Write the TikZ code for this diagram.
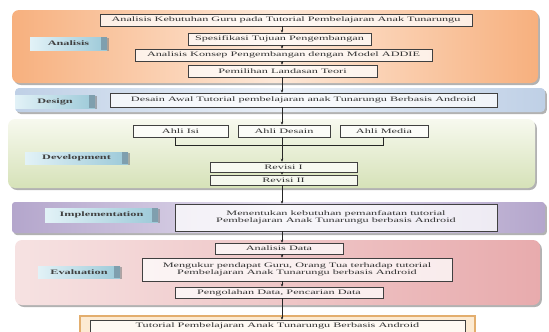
\documentclass[tikz,border=0pt]{standalone}
\usepackage{fontspec}
\usetikzlibrary{shadows,arrows.meta}
\newfontfamily\bxfont{Liberation Serif}[FakeStretch=1.8]
\definecolor{orEdge}{HTML}{F7B07E}
\definecolor{orMid}{HTML}{FDE8D8}
\definecolor{blEdge}{HTML}{BFD0E6}
\definecolor{blMid}{HTML}{E9EFF7}
\definecolor{grTop}{HTML}{F7F9EF}
\definecolor{grBot}{HTML}{D6E2B8}
\definecolor{puEdge}{HTML}{B4A6CC}
\definecolor{puMid}{HTML}{E4DEEE}
\definecolor{piL}{HTML}{F6E2E2}
\definecolor{piR}{HTML}{E8ABAD}
\definecolor{lbL}{HTML}{E2F2F7}
\definecolor{lbR}{HTML}{9CC9D8}
\definecolor{lbD}{HTML}{7F9FAE}
\definecolor{finFill}{HTML}{FCEAD2}
\definecolor{finBorder}{HTML}{E3AE6E}
\tikzset{
  panel/.style={rectangle, rounded corners=7pt, inner sep=0pt,
    drop shadow={shadow xshift=1.8pt, shadow yshift=-2pt, fill=black!55, opacity=0.55}},
  box/.style={rectangle, draw=black!75, line width=0.5pt, fill=white, fill opacity=0.75,
    text opacity=1, inner sep=0pt, font=\bxfont\fontsize{6.8}{7.5}\selectfont, text=black!80,
    align=center},
  lbl/.style={rectangle, inner sep=0pt, left color=lbL, right color=lbR,
    font=\bxfont\bfseries\fontsize{6.8}{7.5}\selectfont, text=black!75,
    path picture={\fill[lbD] ([xshift=-6pt]path picture bounding box.north east)
      rectangle (path picture bounding box.south east);},
    drop shadow={shadow xshift=1.5pt, shadow yshift=-1.2pt, fill=black!50, opacity=0.6}},
  arr/.style={-{Stealth[length=3pt,width=2.6pt]}, line width=0.5pt, black!85},
  ln/.style={line width=0.5pt, black!85}
}
\begin{document}
\begin{tikzpicture}[x=1pt,y=-1pt]
\useasboundingbox (0,0) rectangle (549,332);
% ---------- panels
\node[panel, left color=orEdge, right color=orEdge, middle color=orMid,
  minimum width=526pt, minimum height=73pt] (pA) at (275,46.5) {};
\node[panel, rounded corners=4pt, left color=blEdge, right color=blEdge, middle color=blMid,
  minimum width=530pt, minimum height=24pt] (pD) at (280,100) {};
\node[panel, top color=grTop, bottom color=grBot,
  minimum width=527pt, minimum height=69pt] (pV) at (271.5,153.5) {};
\node[panel, rounded corners=3pt, left color=puEdge, right color=puEdge, middle color=puMid,
  minimum width=533pt, minimum height=31pt] (pI) at (278.5,217.5) {};
\node[panel, left color=piL, right color=piR,
  minimum width=525pt, minimum height=65pt] (pE) at (277.5,272.5) {};
\node[rectangle, draw=finBorder, line width=1.2pt, fill=finFill,
  minimum width=395pt, minimum height=26pt] (pF) at (277.5,329) {};
% ---------- labels
\node[lbl, minimum width=77pt, minimum height=13pt] (lA) at (68.5,43.5) {Analisis\hspace{6pt}};
\node[lbl, minimum width=80pt, minimum height=13pt] (lD) at (55,101.5) {Design\hspace{6pt}};
\node[lbl, minimum width=103pt, minimum height=12pt] (lV) at (76.5,158) {Development\hspace{6pt}};
\node[lbl, minimum width=113pt, minimum height=14pt] (lI) at (101.5,215) {Implementation\hspace{6pt}};
\node[lbl, minimum width=82pt, minimum height=12pt] (lE) at (79,272) {Evaluation\hspace{6pt}};
% ---------- analysis boxes
\coordinate (ax) at (282,0);
\node[box, minimum width=372pt, minimum height=12pt] (A1) at (286,20)
  {Analisis Kebutuhan Guru pada Tutorial Pembelajaran Anak Tunarungu};
\node[box, minimum width=183pt, minimum height=12pt] (A2) at (279.5,39)
  {Spesifikasi Tujuan Pengembangan};
\node[box, minimum width=297pt, minimum height=12pt] (A3) at (283.5,55)
  {Analisis Konsep Pengembangan dengan Model ADDIE};
\node[box, minimum width=189pt, minimum height=12pt] (A4) at (282.5,71)
  {Pemilihan Landasan Teori};
% ---------- design
\node[box, minimum width=387pt, minimum height=14pt] (D1) at (303.5,100)
  {Desain Awal Tutorial pembelajaran anak Tunarungu Berbasis Android};
% ---------- development
\node[box, minimum width=95pt, minimum height=12pt] (V1) at (180.5,131) {Ahli Isi};
\node[box, minimum width=92pt, minimum height=12pt] (V2) at (284,131) {Ahli Desain};
\node[box, minimum width=88pt, minimum height=12pt] (V3) at (384,131) {Ahli Media};
\node[box, minimum width=147pt, minimum height=10pt] (R1) at (283.5,167) {Revisi I};
\node[box, minimum width=147pt, minimum height=10pt] (R2) at (283.5,180) {Revisi II};
\coordinate (bl) at (175,145);
\coordinate (br) at (383,145);
% ---------- implementation
\node[box, minimum width=322pt, minimum height=27pt] (I1) at (336,217.5)
  {Menentukan kebutuhan pemanfaatan tutorial\\Pembelajaran Anak Tunarungu berbasis Android};
% ---------- evaluation
\node[box, minimum width=128pt, minimum height=11pt] (E1) at (279,248.5) {Analisis Data};
\node[box, minimum width=310pt, minimum height=23pt] (E2) at (297,269.5)
  {Mengukur pendapat Guru, Orang Tua terhadap tutorial\\Pembelajaran Anak Tunarungu berbasis Android};
\node[box, minimum width=208pt, minimum height=11pt] (E3) at (279,292.5) {Pengolahan Data, Pencarian Data};
% ---------- final
\node[box, minimum width=375pt, minimum height=12pt] (F1) at (277.5,326)
  {Tutorial Pembelajaran Anak Tunarungu Berbasis Android};
% ---------- connectors
\draw[arr] (A1.south -| ax) -- (A2.north -| ax);
\draw[arr] (A2.south -| ax) -- (A3.north -| ax);
\draw[arr] (A3.south -| ax) -- (A4.north -| ax);
\draw[arr] (A4.south -| ax) -- (D1.north -| ax);
\draw[arr] (D1.south -| ax) -- (V2.north -| ax);
\draw[ln] (V1.south -| bl) -- (bl) -- (br) -- (V3.south -| br);
\draw[arr] (V2.south -| ax) -- (R1.north -| ax);
\draw[arr] (R1.south -| ax) -- (R2.north -| ax);
\draw[arr] (R2.south -| ax) -- (I1.north -| ax);
\draw[arr] (I1.south -| ax) -- (E1.north -| ax);
\draw[arr] (E1.south -| ax) -- (E2.north -| ax);
\draw[arr] (E2.south -| ax) -- (E3.north -| ax);
\draw[arr] (E3.south -| ax) -- (F1.north -| ax);
\end{tikzpicture}
\end{document}
